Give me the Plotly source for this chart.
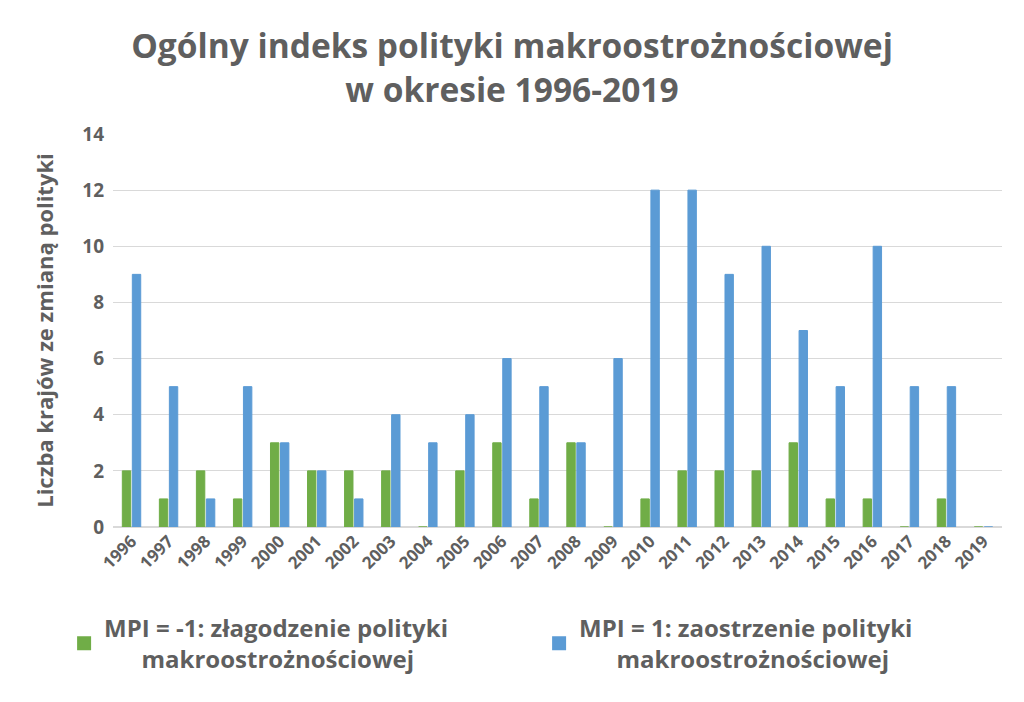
import plotly.graph_objects as go

years = [str(y) for y in range(1996, 2020)]
easing = [2, 1, 2, 1, 3, 2, 2, 2, 0, 2, 3, 1, 3, 0, 1, 2, 2, 2, 3, 1, 1, 0, 1, 0]
tightening = [9, 5, 1, 5, 3, 2, 1, 4, 3, 4, 6, 5, 3, 6, 12, 12, 9, 10, 7, 5, 10, 5, 5, 0]
y_ticks = [0, 2, 4, 6, 8, 10, 12, 14]

name_easing = "MPI = -1: złagodzenie polityki<br>" + "\u00a0" * 6 + "makroostrożnościowej"
name_tight = "MPI = 1: zaostrzenie polityki<br>" + "\u00a0" * 6 + "makroostrożnościowej"

GREEN = "#70AD47"
BLUE = "#5B9BD5"
TXT = "#5f5f5f"
FONT = "Open Sans"

fig = go.Figure()
fig.add_trace(go.Bar(x=years, y=easing, name=name_easing,
                     marker=dict(color=GREEN, line=dict(color=GREEN, width=1))))
fig.add_trace(go.Bar(x=years, y=tightening, name=name_tight,
                     marker=dict(color=BLUE, line=dict(color=BLUE, width=1))))

fig.update_layout(
    width=1024, height=702,
    margin=dict(l=113, r=22, t=134, b=175, autoexpand=False),
    paper_bgcolor="white", plot_bgcolor="white",
    barmode="group", bargap=0.46, bargroupgap=0.16,
    font=dict(family=FONT, color=TXT),
    title=dict(text="<b>Ogólny indeks polityki makroostrożnościowej<br>w okresie 1996-2019</b>",
               x=0.5, xanchor="center", xref="container", yref="container",
               y=1 - 58 / 702, yanchor="middle",
               font=dict(family=FONT, size=33.5, color=TXT)),
    xaxis=dict(type="category", tickangle=-45, showgrid=False, showline=False,
               ticks="", tickfont=dict(family=FONT, size=17, color=TXT, weight="bold")),
    yaxis=dict(range=[0, 14], tickvals=y_ticks, showgrid=True, gridcolor="#d9d9d9",
               gridwidth=1, zeroline=True, zerolinecolor="#d9d9d9", ticks="",
               tickfont=dict(family=FONT, size=19, color=TXT, weight="bold"),
               ticklabelstandoff=8,
               title=dict(text="<b>Liczba krajów ze zmianą polityki</b>", standoff=22,
                          font=dict(family=FONT, size=22, color=TXT))),
    legend=dict(orientation="h", x=-0.055, xanchor="left", y=-0.2, yanchor="top",
                entrywidth=430, entrywidthmode="pixels",
                font=dict(family=FONT, size=24, color=TXT, weight="bold"),
                itemsizing="constant", valign="middle", traceorder="normal"),
)

fig.write_html("out.html")
